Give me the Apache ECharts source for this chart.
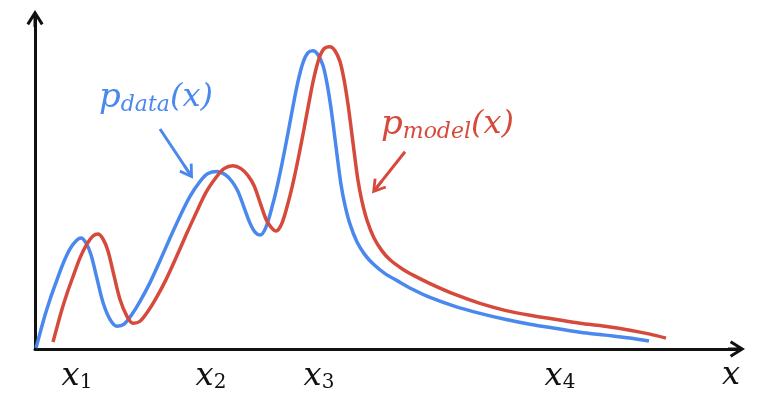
<!DOCTYPE html>
<html>
<head>
<meta charset="utf-8">
<script src="https://cdn.jsdelivr.net/npm/echarts@6/dist/echarts.min.js"></script>
<style>
html, body { margin: 0; padding: 0; background: #fff; }
#main { width: 759px; height: 393px; }
</style>
</head>
<body>
<div id="main"></div>
<script>
// p_data(x)
var dataX = [1, 5, 10, 15, 21, 28, 35, 41, 46, 51, 56, 62, 68, 75, 82, 89, 97, 105, 115, 125, 135, 145, 155, 165, 173, 182, 190, 197, 203, 209, 215, 220, 225, 231, 238, 243, 248, 253, 258, 263, 268, 273, 278, 283, 288, 292, 296, 299, 302, 306, 310, 315, 322, 330, 338, 350, 362, 378, 395, 420, 445, 470, 495, 520, 545, 570, 595, 614];
var dataY = [1, 16, 34, 50, 67, 86, 101, 109, 112, 107, 95, 71, 47, 30, 23, 25, 35, 48, 67, 89, 112, 134, 154, 169, 177, 179, 176, 169, 159, 143, 127, 118, 115, 123, 147, 168, 192, 218, 245, 270, 289, 299, 301, 297, 286, 268, 243, 220, 196, 166, 145, 126, 108, 95, 86, 76, 69, 60, 52, 43, 36, 30, 25, 21, 17, 14, 11, 8];
// p_model(x)
var modelX = [18, 22, 27, 32, 38, 45, 52, 58, 63, 68, 73, 79, 85, 92, 98, 105, 113, 121, 131, 141, 151, 161, 171, 181, 189, 198, 206, 213, 219, 225, 231, 236, 241, 247, 254, 259, 264, 269, 274, 279, 284, 289, 295, 300, 305, 309, 313, 316, 319, 323, 327, 332, 339, 347, 355, 367, 379, 395, 420, 445, 470, 495, 520, 545, 570, 595, 615, 631];
var modelY = [7, 22, 40, 56, 73, 92, 106, 114, 116, 111, 99, 74, 50, 33, 26, 28, 38, 51, 70, 92, 115, 137, 158, 173, 182, 185, 182, 175, 165, 148, 131, 123, 119, 127, 151, 172, 196, 222, 249, 274, 293, 303, 305, 301, 290, 272, 247, 224, 200, 170, 149, 130, 112, 99, 90, 81, 74, 66, 55, 46, 39, 34, 30, 26, 23, 19, 15, 11];
// axis labels
var tickPos = [42, 176, 284, 525, 696];
var tickSub = ['1', '2', '3', '4', ''];

var blue = '#4a88ee';
var red = '#d64a3c';
var mathFont = 'DejaVu Serif';
// arrow pointing up, with a short stem so it joins the line
var arrowPath = 'path://M10,0 L20,16 L17,17.9 L11.75,9.4 L11.75,20 L8.25,20 L8.25,9.4 L3,17.9 L0,16 Z';

function pairs(xs, ys) {
	var out = [];
	for (var i = 0; i < xs.length; i++) {
		out.push([xs[i], ys[i]]);
	}
	return out;
}

function richFor(color) {
	return {
		p : { fontSize : 34, lineHeight : 36, fontStyle : 'italic', fontFamily : mathFont, fill : color },
		s : { fontSize : 22, padding : [ 15, 0, 0, 0 ], fontStyle : 'italic', fontFamily : mathFont, fill : color },
		n : { fontSize : 32, lineHeight : 36, fontStyle : 'italic', fontFamily : mathFont, fill : color }
	};
}

var myChart = echarts.init(document.getElementById('main'));
var option = {
	animation : false,
	grid : {
		left : 35,
		right : 22.5,
		top : 18.5,
		bottom : 41
	},
	xAxis : {
		type : 'value',
		min : 0,
		max : 701.5,
		splitLine : { show : false },
		axisTick : { show : false },
		axisLine : {
			show : true,
			onZero : false,
			symbol : [ 'none', arrowPath ],
			symbolSize : [ 17, 17 ],
			lineStyle : { color : '#111', width : 3 }
		},
		axisLabel : {
			customValues : tickPos,
			margin : 11,
			formatter : function(v) {
				var i = tickPos.indexOf(v);
				if (i < 0) return '';
				return tickSub[i] ? '{m|x}{s|' + tickSub[i] + '}' : '{m|x}';
			},
			rich : {
				m : { fontSize : 32, lineHeight : 32, fontStyle : 'italic', fontFamily : mathFont, color : '#111' },
				s : { fontSize : 20, padding : [ 13, 0, 0, 0 ], fontFamily : mathFont, color : '#111' }
			}
		}
	},
	yAxis : {
		type : 'value',
		min : 0,
		max : 333.5,
		splitLine : { show : false },
		axisTick : { show : false },
		axisLabel : { show : false },
		axisLine : {
			show : true,
			onZero : false,
			symbol : [ 'none', arrowPath ],
			symbolSize : [ 17, 17 ],
			lineStyle : { color : '#111', width : 3 }
		}
	},
	series : [ {
		name : 'p_data',
		type : 'line',
		data : pairs(dataX, dataY),
		smooth : 0.3,
		showSymbol : false,
		lineStyle : { color : blue, width : 3.5 },
		markLine : {
			silent : true,
			symbol : [ 'none', arrowPath ],
			symbolSize : 16,
			label : { show : false },
			lineStyle : { color : blue, width : 3, type : 'solid' },
			data : [ [ { coord : [ 125, 222 ] }, { coord : [ 153.6, 178.6 ] } ] ]
		}
	}, {
		name : 'p_model',
		type : 'line',
		data : pairs(modelX, modelY),
		smooth : 0.3,
		showSymbol : false,
		lineStyle : { color : red, width : 3.5 },
		markLine : {
			silent : true,
			symbol : [ 'none', arrowPath ],
			symbolSize : 16,
			label : { show : false },
			lineStyle : { color : red, width : 3, type : 'solid' },
			data : [ [ { coord : [ 370, 199 ] }, { coord : [ 342, 163.3 ] } ] ]
		}
	} ],
	graphic : [ {
		type : 'text',
		left : 99,
		top : 81,
		style : {
			text : '{p|p}{s|data}{n|(x)}',
			rich : richFor(blue)
		}
	}, {
		type : 'text',
		left : 381,
		top : 108,
		style : {
			text : '{p|p}{s|model}{n|(x)}',
			rich : richFor(red)
		}
	} ]
};
myChart.setOption(option);
</script>
</body>
</html>
